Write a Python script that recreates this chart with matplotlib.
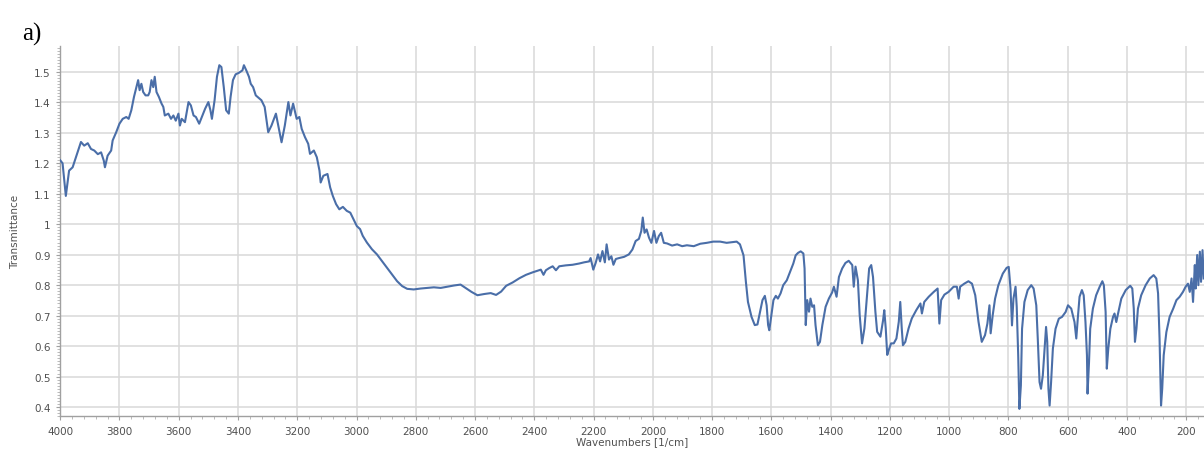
import matplotlib
matplotlib.use("Agg")
import matplotlib.pyplot as plt
from matplotlib.ticker import MultipleLocator

# FTIR spectrum
wavenumber = [
    4000, 3992, 3981, 3970, 3958, 3947, 3930, 3919, 3907, 3896, 3885, 3873, 3862, 3853, 3849,
    3840, 3828, 3823, 3811, 3800, 3789, 3777, 3769, 3760, 3751, 3743, 3737, 3732, 3726, 3720,
    3712, 3703, 3698, 3692, 3686, 3681, 3675, 3667, 3658, 3652, 3647, 3635, 3626, 3618, 3610,
    3601, 3596, 3590, 3579, 3567, 3559, 3550, 3542, 3531, 3522, 3511, 3500, 3493, 3488, 3479,
    3471, 3463, 3456, 3448, 3440, 3431, 3425, 3417, 3408, 3397, 3385, 3380, 3372, 3363, 3357,
    3349, 3340,
    3321, 3310, 3298, 3287, 3272, 3264, 3253, 3242, 3230, 3223, 3214, 3202, 3193, 3185, 3174,
    3163, 3157, 3144, 3134, 3125, 3121, 3112, 3098, 3089, 3080, 3069, 3058, 3046, 3033, 3021,
    3010, 2999, 2988, 2979, 2965, 2948, 2931, 2914, 2897, 2880, 2863, 2846, 2829, 2807, 2784,
    2761, 2739, 2716, 2694, 2671, 2649, 2632, 2612, 2592, 2569, 2547,
    2529, 2512, 2495, 2473, 2450, 2428, 2406, 2378, 2369, 2361, 2350, 2338, 2327, 2316, 2294,
    2271, 2249, 2232, 2215, 2210, 2201, 2193, 2185, 2178, 2170, 2162, 2156, 2148, 2140, 2133,
    2125, 2114, 2097, 2081, 2069, 2058, 2047, 2039, 2034, 2028, 2021, 2013, 2005, 1996, 1988,
    1980, 1972, 1963, 1952, 1935, 1918, 1901, 1885, 1862, 1840, 1818, 1796, 1773, 1751, 1734,
    1717, 1706,
    1694, 1686, 1679, 1667, 1656, 1647, 1638, 1630, 1622, 1616, 1611, 1607, 1600, 1593, 1585,
    1578, 1569, 1560, 1548, 1537, 1526, 1518, 1510, 1501, 1492, 1488, 1484, 1479, 1473, 1468,
    1462, 1456, 1451, 1443, 1436, 1428, 1417, 1406, 1395, 1389, 1380, 1372, 1361, 1350, 1339,
    1327, 1322, 1316, 1308, 1302, 1294, 1286, 1277, 1270, 1263, 1257, 1249, 1243, 1232, 1223,
    1219, 1214, 1209, 1204, 1196, 1187, 1178, 1170, 1165, 1160, 1156, 1148, 1137, 1126, 1111,
    1097, 1092, 1084, 1069, 1052, 1039, 1033, 1027, 1016, 1002, 985, 974, 968, 963, 949,
    935, 923, 912, 901, 890, 879, 871, 864, 860, 853, 845, 834, 819, 806,
    799, 793, 788, 783, 776, 772, 767, 763, 758, 754, 746, 735, 723, 715, 706,
    701, 695, 690, 684, 678, 673, 669, 665, 661, 656, 650, 641, 630, 619, 607,
    599, 588, 577, 571, 566, 560, 552, 546, 540, 535, 533, 528, 524, 515, 504,
    492, 483, 478, 472, 468, 463, 456, 447, 442, 436, 430, 419, 404, 389, 382,
    377, 373, 368, 363, 352, 337, 323, 310, 301, 295, 290, 285, 281, 276, 267,
    256, 244, 233, 222, 211, 202, 194, 188, 182, 177, 171, 168, 163, 159, 154,
    150, 145, 141,
]
transmittance = [
    1.21, 1.20, 1.093, 1.176, 1.187, 1.22, 1.27, 1.258, 1.266, 1.247, 1.242, 1.23, 1.236, 1.209, 1.187,
    1.225, 1.242, 1.275, 1.302, 1.33, 1.346, 1.352, 1.346, 1.374, 1.418, 1.45, 1.473, 1.44, 1.461, 1.434,
    1.423, 1.423, 1.434, 1.473, 1.45, 1.484, 1.434, 1.418, 1.396, 1.385, 1.357, 1.363, 1.346, 1.357, 1.34,
    1.363, 1.324, 1.346, 1.335, 1.401, 1.39, 1.357, 1.352, 1.33, 1.352, 1.379, 1.401, 1.374, 1.346, 1.407,
    1.484, 1.522, 1.516, 1.45, 1.374, 1.363, 1.418, 1.473, 1.492, 1.497, 1.505, 1.522, 1.505, 1.484, 1.461,
    1.45, 1.423,
    1.407, 1.385, 1.302, 1.324, 1.363, 1.324, 1.269, 1.324, 1.401, 1.357, 1.396, 1.346, 1.352, 1.313, 1.286,
    1.264, 1.231, 1.242, 1.22, 1.176, 1.137, 1.159, 1.165, 1.121, 1.093, 1.066, 1.049, 1.057, 1.044, 1.038,
    1.016, 0.994, 0.984, 0.962, 0.94, 0.918, 0.901, 0.879, 0.857, 0.835, 0.813, 0.797, 0.788, 0.786, 0.789,
    0.791, 0.793, 0.791, 0.795, 0.799, 0.802, 0.791, 0.778, 0.767, 0.771, 0.774,
    0.768, 0.779, 0.798, 0.809, 0.823, 0.834, 0.842, 0.851, 0.834, 0.849, 0.856, 0.862, 0.849, 0.862, 0.865,
    0.867, 0.871, 0.875, 0.878, 0.889, 0.851, 0.873, 0.901, 0.878, 0.912, 0.875, 0.934, 0.884, 0.895, 0.867,
    0.886, 0.889, 0.893, 0.901, 0.917, 0.945, 0.952, 0.978, 1.022, 0.972, 0.983, 0.956, 0.939, 0.978, 0.939,
    0.961, 0.972, 0.939, 0.937, 0.93, 0.934, 0.928, 0.931, 0.928, 0.936, 0.939, 0.943, 0.943, 0.939, 0.941,
    0.943, 0.934,
    0.898, 0.811, 0.745, 0.696, 0.669, 0.671, 0.713, 0.751, 0.765, 0.734, 0.669, 0.652, 0.702, 0.751, 0.765,
    0.756, 0.773, 0.80, 0.816, 0.844, 0.871, 0.898, 0.906, 0.911, 0.904, 0.855, 0.669, 0.751, 0.713, 0.756,
    0.729, 0.734, 0.669, 0.603, 0.614, 0.669, 0.729, 0.756, 0.776, 0.795, 0.762, 0.827, 0.855, 0.873, 0.88,
    0.866, 0.795, 0.861, 0.816, 0.702, 0.609, 0.658, 0.767, 0.855, 0.866, 0.827, 0.713, 0.647, 0.631, 0.685,
    0.718, 0.658, 0.571, 0.587, 0.609, 0.609, 0.625, 0.68, 0.745, 0.658, 0.603, 0.614, 0.658, 0.691, 0.718,
    0.74, 0.707, 0.745, 0.762, 0.778, 0.789, 0.674, 0.751, 0.769, 0.778, 0.795, 0.795, 0.756, 0.795, 0.805,
    0.813, 0.805, 0.767, 0.68, 0.614, 0.636, 0.674, 0.734, 0.642, 0.702, 0.756, 0.80, 0.838, 0.857,
    0.86, 0.789, 0.668, 0.756, 0.795, 0.729, 0.57, 0.394, 0.471, 0.657, 0.745, 0.784, 0.80, 0.789, 0.734,
    0.625, 0.482, 0.46, 0.504, 0.592, 0.663, 0.614, 0.46, 0.405, 0.482, 0.592, 0.657, 0.69, 0.696, 0.712,
    0.734, 0.723, 0.679, 0.625, 0.69, 0.762, 0.784, 0.767, 0.679, 0.57, 0.444, 0.548, 0.657, 0.723, 0.767,
    0.795, 0.813, 0.80, 0.712, 0.526, 0.592, 0.657, 0.696, 0.707, 0.679, 0.707, 0.756, 0.784, 0.798, 0.789,
    0.723, 0.614, 0.657, 0.723, 0.767, 0.80, 0.822, 0.833, 0.822, 0.773, 0.625, 0.405, 0.46, 0.57, 0.646,
    0.696, 0.723, 0.751, 0.762, 0.778, 0.795, 0.805, 0.778, 0.822, 0.745, 0.866, 0.789, 0.899, 0.80, 0.91,
    0.811, 0.915, 0.822,
]

x_ticks = [4000, 3800, 3600, 3400, 3200, 3000, 2800, 2600, 2400, 2200, 2000,
           1800, 1600, 1400, 1200, 1000, 800, 600, 400, 200]
y_ticks = [0.4, 0.5, 0.6, 0.7, 0.8, 0.9, 1.0, 1.1, 1.2, 1.3, 1.4, 1.5]
y_labels = ["0.4", "0.5", "0.6", "0.7", "0.8", "0.9", "1", "1.1", "1.2", "1.3", "1.4", "1.5"]

fig = plt.figure(figsize=(12.04, 4.52), dpi=100)
ax = fig.add_axes([0.05, 0.077, 0.95, 0.819])

ax.plot(wavenumber, transmittance, color="#4a6ea8", lw=1.5, zorder=3)

ax.set_xlim(4000, 140)
ax.set_ylim(0.37, 1.585)
ax.set_xticks(x_ticks)
ax.set_yticks(y_ticks)
ax.set_yticklabels(y_labels)
ax.xaxis.set_minor_locator(MultipleLocator(40))
ax.yaxis.set_minor_locator(MultipleLocator(0.01))

ax.grid(True, which="major", color="#d8d8d8", lw=1.1)
ax.set_axisbelow(True)

for side in ["top", "right"]:
    ax.spines[side].set_visible(False)
for side in ["left", "bottom"]:
    ax.spines[side].set_color("#a0a0a0")
    ax.spines[side].set_linewidth(1.0)

ax.tick_params(which="major", length=3, color="#a0a0a0", labelsize=7.5,
               labelcolor="#505050", pad=4)
ax.tick_params(which="minor", length=2, color="#b0b0b0")

ax.set_xlabel("Wavenumbers [1/cm]", fontsize=7.5, color="#505050", labelpad=0)
ax.set_ylabel("Transmittance", fontsize=7.5, color="#505050", labelpad=10)

fig.text(0.018, 0.91, "a)", fontsize=18, family="Liberation Serif", color="black")

fig.savefig("out.png", dpi=100)
